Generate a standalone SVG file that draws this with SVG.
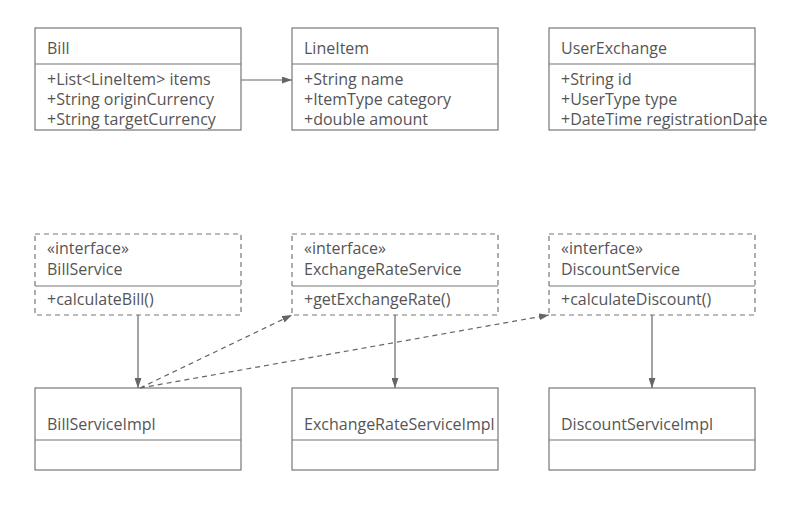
<svg xmlns="http://www.w3.org/2000/svg" width="802" height="509" viewBox="0 0 802 509">
<defs>
<marker id="arr" viewBox="0 0 10 7" refX="10" refY="3.5" markerWidth="10" markerHeight="7" markerUnits="userSpaceOnUse" orient="auto">
<path d="M0,0 L10,3.5 L0,7 Z" fill="#666"/>
</marker>
<style>
text{font-family:"Open Sans","Noto Sans",sans-serif;font-size:16px;fill:#555}
.box{fill:#fff;stroke:#777;stroke-width:1.2}
.dbox{fill:#fff;stroke:#777;stroke-width:1.2;stroke-dasharray:5,4}
.sep{stroke:#777;stroke-width:1.2}
.edge{fill:none;stroke:#666;stroke-width:1.2}
.dash{stroke-dasharray:5,4}
</style>
</defs>
<rect width="802" height="509" fill="#fff"/>
<g id="Bill">
<rect class="box" x="35" y="28" width="206" height="102"/>
<line class="sep" x1="35" y1="64" x2="241" y2="64"/>
<text x="47" y="54">Bill</text>
<text x="47" y="85">+List&lt;LineItem&gt; items</text>
<text x="47" y="105">+String originCurrency</text>
<text x="47" y="125">+String targetCurrency</text>
</g>
<g id="LineItem">
<rect class="box" x="292" y="28" width="206" height="102"/>
<line class="sep" x1="292" y1="64" x2="498" y2="64"/>
<text x="304" y="54">LineItem</text>
<text x="304" y="85">+String name</text>
<text x="304" y="105">+ItemType category</text>
<text x="304" y="125">+double amount</text>
</g>
<g id="UserExchange">
<rect class="box" x="549" y="28" width="206" height="102"/>
<line class="sep" x1="549" y1="64" x2="755" y2="64"/>
<text x="561" y="54">UserExchange</text>
<text x="561" y="85">+String id</text>
<text x="561" y="105">+UserType type</text>
<text x="561" y="125">+DateTime registrationDate</text>
</g>
<g id="BillService">
<rect class="dbox" x="35" y="234" width="206" height="81"/>
<line class="sep" x1="35" y1="286" x2="241" y2="286"/>
<text x="47" y="254">«interface»</text>
<text x="47" y="275">BillService</text>
<text x="47" y="305">+calculateBill()</text>
</g>
<g id="ExchangeRateService">
<rect class="dbox" x="292" y="234" width="206" height="81"/>
<line class="sep" x1="292" y1="286" x2="498" y2="286"/>
<text x="304" y="254">«interface»</text>
<text x="304" y="275">ExchangeRateService</text>
<text x="304" y="305">+getExchangeRate()</text>
</g>
<g id="DiscountService">
<rect class="dbox" x="549" y="234" width="206" height="81"/>
<line class="sep" x1="549" y1="286" x2="755" y2="286"/>
<text x="561" y="254">«interface»</text>
<text x="561" y="275">DiscountService</text>
<text x="561" y="305">+calculateDiscount()</text>
</g>
<g id="BillServiceImpl">
<rect class="box" x="35" y="388" width="206" height="82"/>
<line class="sep" x1="35" y1="440" x2="241" y2="440"/>
<text x="47" y="430">BillServiceImpl</text>
</g>
<g id="ExchangeRateServiceImpl">
<rect class="box" x="292" y="388" width="206" height="82"/>
<line class="sep" x1="292" y1="440" x2="498" y2="440"/>
<text x="304" y="430">ExchangeRateServiceImpl</text>
</g>
<g id="DiscountServiceImpl">
<rect class="box" x="549" y="388" width="206" height="82"/>
<line class="sep" x1="549" y1="440" x2="755" y2="440"/>
<text x="561" y="430">DiscountServiceImpl</text>
</g>
<g id="connectors">
<line class="edge" x1="241" y1="80" x2="292" y2="80" marker-end="url(#arr)"/>
<line class="edge" x1="138" y1="315" x2="138" y2="388" marker-end="url(#arr)"/>
<line class="edge" x1="395" y1="315" x2="395" y2="388" marker-end="url(#arr)"/>
<line class="edge" x1="652" y1="315" x2="652" y2="388" marker-end="url(#arr)"/>
<line class="edge dash" x1="140" y1="388" x2="292" y2="315" marker-end="url(#arr)"/>
<line class="edge dash" x1="140" y1="388" x2="549" y2="315" marker-end="url(#arr)"/>
</g>
</svg>
